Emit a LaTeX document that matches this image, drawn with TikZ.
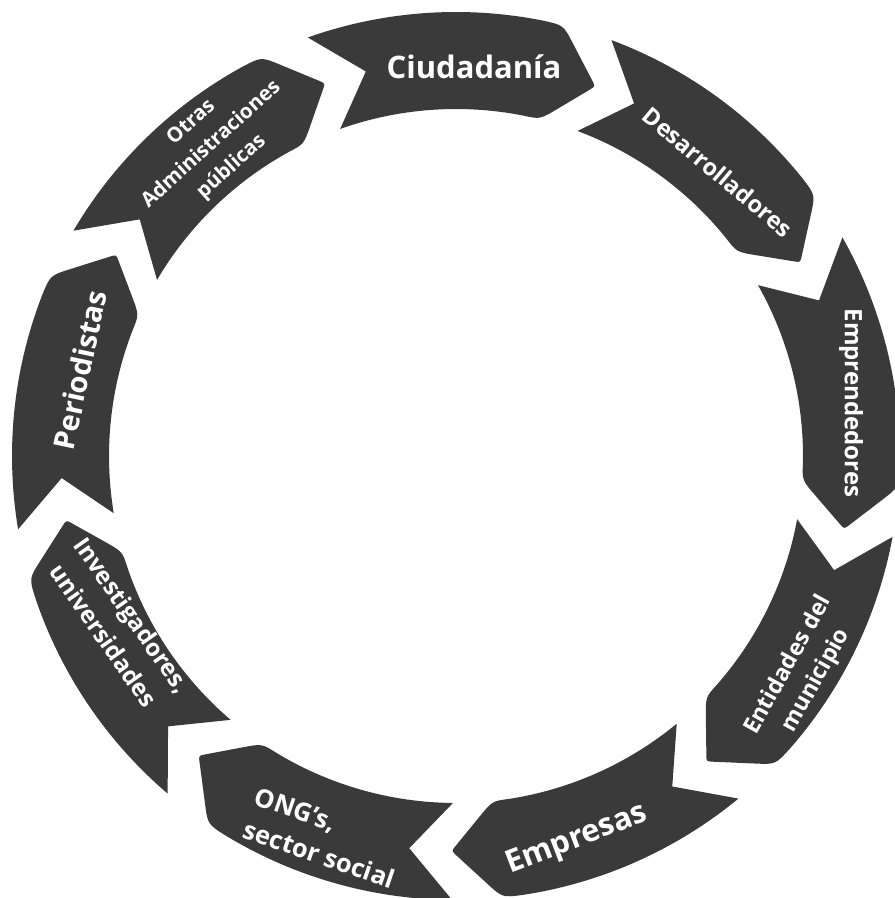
\documentclass[tikz,border=0pt]{standalone}
\usepackage{fontspec}
\setmainfont{Open Sans}
\usetikzlibrary{calc}
\definecolor{segfill}{HTML}{3A3A3A}
\newcommand\Ro{444}
\newcommand\Rm{395}
\newcommand\Ri{347}
\newcommand\fsz[2]{\fontsize{#1}{#2}\selectfont\bfseries}
% #1 back angle, #2 front angle
\newcommand\cycseg[2]{%
  \pgfmathsetmacro\bA{#1}%
  \pgfmathsetmacro\fA{#2}%
  \pgfmathsetmacro\tA{\fA-6.65}%
  \pgfmathsetmacro\nA{\bA-6.3}%
  \pgfmathsetmacro\fAo{\fA+2.6}%
  \pgfmathsetmacro\fAi{\fA+2.8}%
  \fill[segfill] (\bA:\Ro) arc[start angle=\bA, end angle=\fAo, radius=\Ro]
    .. controls (\fA:\Ro) .. ($(\fA:\Ro)!0.3!(\tA:\Rm)$)
    -- ($(\fA:\Ro)!0.9!(\tA:\Rm)$)
    .. controls (\tA:\Rm) .. ($(\tA:\Rm)!0.1!(\fA:\Ri)$)
    -- ($(\tA:\Rm)!0.68!(\fA:\Ri)$)
    .. controls (\fA:\Ri) .. (\fAi:\Ri)
    arc[start angle=\fAi, end angle=\bA, radius=\Ri]
    -- (\nA:\Rm) -- cycle;
}
\tikzset{lbl/.style={text=white, align=center, inner sep=0pt}}
\begin{document}
\begin{tikzpicture}[x=1pt,y=1pt]
\useasboundingbox (0,0) rectangle (895,898);
\clip (0,0) rectangle (895,898);
\fill[white] (0,0) rectangle (895,898);
\begin{scope}[shift={(456,442)}]
  \cycseg{109.5}{76}
  \cycseg{69.5}{36}
  \cycseg{29.5}{-4}
  \cycseg{-10.5}{-44}
  \cycseg{-50.5}{-84}
  \cycseg{-90.5}{-124}
  \cycseg{-130.5}{-164}
  \cycseg{189.5}{156}
  \cycseg{149.5}{116}
\end{scope}
\node[lbl, font=\fsz{31}{42}] (ciud) at (474,831) {Ciudadanía};
\node[lbl, rotate=-40, font=\fsz{23.5}{32}] (desa) at (718,726) {Desarrolladores};
\node[lbl, rotate=-90, font=\fsz{24}{33}] (empr) at (851,495) {Emprendedores};
\node[lbl, rotate=61, font=\fsz{23}{32}] (enti) at (802.5,225) {Entidades del\\municipio};
\node[lbl, rotate=21, font=\fsz{31}{42}] (empe) at (577,58) {Empresas};
\node[lbl, rotate=-19, align=left, font=\fsz{25.5}{35}] (ongs) at (325,60) {ONG's,\\sector social};
\node[lbl, rotate=-55, font=\fsz{24}{35}] (inve) at (118,273) {Investigadores,\\universidades};
\node[lbl, rotate=78, font=\fsz{29}{40}] (peri) at (80,528) {Periodistas};
\node[lbl, rotate=42, font=\fsz{20.5}{30}] (otra) at (211.7,753) {Otras\\Administraciones\\públicas};
\end{tikzpicture}
\end{document}
